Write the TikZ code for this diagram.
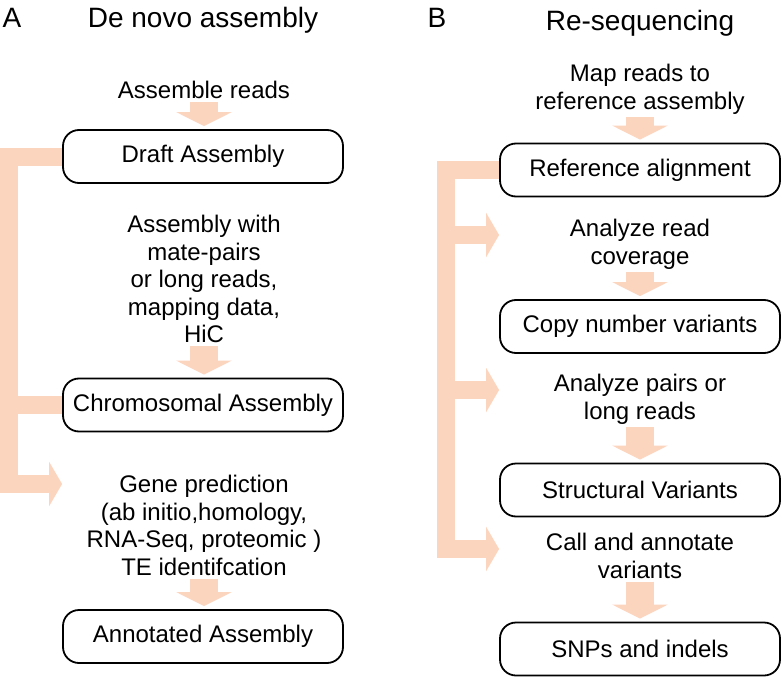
\documentclass[tikz,border=0pt]{standalone}
\usepackage{fontspec}
\setmainfont{Liberation Sans}
\usetikzlibrary{arrows.meta}
\definecolor{peach}{RGB}{252,213,191}
\tikzset{
  stepbox/.style={draw, line width=1.8pt, rounded corners=16pt, minimum width=280pt,
    minimum height=53pt, inner sep=0pt, font=\fontsize{24}{28}\selectfont},
  txt/.style={align=center, inner sep=0pt, font=\fontsize{24}{27.5}\selectfont},
  titletext/.style={inner sep=0pt, font=\fontsize{28}{32}\selectfont},
  flow/.style={draw=peach, line width=28pt, -{Triangle[width=55pt,length=14pt]},
    shorten <=3pt, shorten >=3pt},
  feed/.style={draw=peach, line width=18pt, line join=miter, -{Triangle[width=44pt,length=13pt]}},
  feedline/.style={draw=peach, line width=18pt},
}
\begin{document}
\begin{tikzpicture}[x=1pt, y=-1pt]
\useasboundingbox (0,0) rectangle (782,677);

% A: de novo assembly
\node [titletext, anchor=base] (lblA) at (12,28) {A};
\node [titletext, anchor=base] (ttlA) at (203,28) {De novo assembly};
\node [txt, anchor=north] (asm) at (204,81) {Assemble reads};
\node [stepbox] (draft) at (203,156.5) {Draft Assembly};
\node [txt, anchor=north] (mate) at (204,215) {Assembly with\\ mate-pairs\\or long reads,\\ mapping data,\\HiC};
\node [stepbox] (chrom) at (203,405) {Chromosomal Assembly};
\node [txt, anchor=north] (gene) at (204,475) {Gene prediction\\ (ab initio,homology,\\RNA-Seq, proteomic )\\TE identifcation};
\node [stepbox] (annot) at (203,636.5) {Annotated Assembly};
\coordinate (lbar) at (9,0);

\draw [flow] (asm.south) -- (asm.south |- draft.north);
\draw [flow] (mate.south) -- (mate.south |- chrom.north);
\draw [flow] (gene.south) -- (gene.south |- annot.north);
\draw [feed] (draft.west) -- (draft.west -| lbar) |- ([yshift=-9pt]gene.north -| draft.west);
\draw [feedline] (chrom.west) -- (chrom.west -| lbar);

% B: re-sequencing
\node [titletext, anchor=base] (lblB) at (437,28) {B};
\node [titletext, anchor=base] (ttlB) at (640,31) {Re-sequencing};
\node [txt, anchor=north] (mapr) at (640,64) {Map reads to\\reference assembly};
\node [stepbox] (refal) at (640,170) {Reference alignment};
\node [txt, anchor=north] (anrc) at (640,219) {Analyze read\\coverage};
\node [stepbox] (copynv) at (640,326.5) {Copy number variants};
\node [txt, anchor=north] (anpr) at (640,374) {Analyze pairs or\\long reads};
\node [stepbox] (strv) at (640,490) {Structural Variants};
\node [txt, anchor=north] (cava) at (640,533) {Call and annotate\\variants};
\node [stepbox] (snps) at (640,649) {SNPs and indels};
\coordinate (rbar) at (446,0);

\draw [flow] (mapr.south) -- (mapr.south |- refal.north);
\draw [flow] (anrc.south) -- (anrc.south |- copynv.north);
\draw [flow] (anpr.south) -- (anpr.south |- strv.north);
\draw [flow] (cava.south) -- (cava.south |- snps.north);
\draw [feed] (refal.west) -- (refal.west -| rbar) |- ([yshift=-16pt]cava.north -| refal.west);
\draw [feed] ([yshift=-16pt]anrc.north -| rbar) -- ([yshift=-16pt]anrc.north -| refal.west);
\draw [feed] ([yshift=-16pt]anpr.north -| rbar) -- ([yshift=-16pt]anpr.north -| refal.west);

\end{tikzpicture}
\end{document}
